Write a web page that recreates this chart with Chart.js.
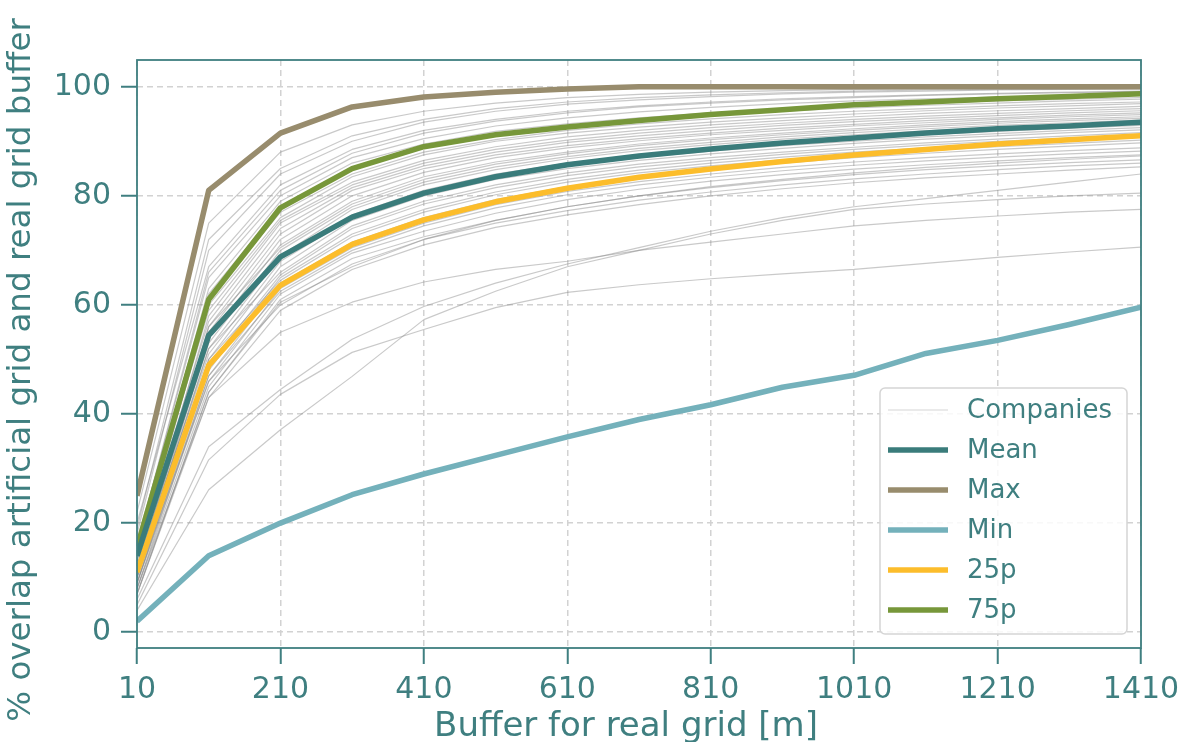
<!DOCTYPE html>
<html>
<head>
<meta charset="utf-8">
<script src="https://cdn.jsdelivr.net/npm/chart.js@4.4.1/dist/chart.umd.min.js"></script>
<style>
  html, body { margin: 0; padding: 0; background: #fff; }
  #wrap { width: 1188px; height: 742px; }
</style>
</head>
<body>
<div id="wrap"><canvas id="overlapChart" width="1188" height="742"></canvas></div>
<script>
// buffer sizes (m) and axis ticks
var buffers = [10, 110, 210, 310, 410, 510, 610, 710, 810, 910, 1010, 1110, 1210, 1310, 1410];
var xTicks = [10, 210, 410, 610, 810, 1010, 1210, 1410];
var yTicks = [0, 20, 40, 60, 80, 100];

// summary curves (% overlap)
var meanVals = [14, 54.4, 68.8, 76.1, 80.5, 83.5, 85.7, 87.3, 88.6, 89.7, 90.6, 91.5, 92.3, 92.8, 93.5];
var maxVals  = [25, 81, 91.5, 96.3, 98.1, 99, 99.6, 100, 100, 100, 100, 100, 100, 100, 100];
var minVals  = [2, 14, 20, 25.2, 29, 32.4, 35.8, 39, 41.7, 44.9, 47.1, 51.1, 53.5, 56.4, 59.6];
var p25Vals  = [11, 48.9, 63.6, 71.1, 75.6, 78.9, 81.4, 83.4, 84.9, 86.3, 87.5, 88.5, 89.5, 90.3, 91];
var p75Vals  = [15.5, 61, 77.8, 85, 89, 91.2, 92.6, 93.8, 94.9, 95.8, 96.7, 97.2, 97.8, 98.2, 98.7];

// one curve per company
var companies = [
  [22, 75, 88, 93, 95.5, 97, 98, 98.6, 99, 99.3, 99.5, 99.6, 99.7, 99.8, 99.9],
  [18, 70, 84, 90, 93.5, 95.5, 96.8, 97.6, 98.2, 98.7, 99, 99.2, 99.4, 99.5, 99.6],
  [20, 67, 82, 88.5, 92, 94, 95.5, 96.5, 97.2, 97.8, 98.2, 98.5, 98.8, 99, 99.2],
  [16, 65, 80, 87, 90.5, 92.8, 94.3, 95.4, 96.2, 96.9, 97.4, 97.8, 98.1, 98.4, 98.6],
  [15, 63, 79, 86, 89.5, 91.8, 93.2, 94.3, 95.2, 95.9, 96.5, 97, 97.4, 97.7, 98],
  [17, 62, 78, 85, 88.8, 91, 92.6, 93.8, 94.7, 95.5, 96.1, 96.6, 97, 97.4, 97.7],
  [14, 61, 77, 84, 88, 90.3, 92, 93.2, 94.1, 94.9, 95.5, 96, 96.5, 96.9, 97.2],
  [13, 60, 76, 83.5, 87.5, 90, 91.5, 92.6, 93.5, 94.3, 95, 95.6, 96.1, 96.5, 96.9],
  [15, 59, 75.5, 82.5, 86.5, 89, 90.8, 92, 93, 93.8, 94.5, 95.1, 95.6, 96, 96.4],
  [12, 58, 75, 82, 86, 88.5, 90.2, 91.5, 92.5, 93.3, 94, 94.6, 95.1, 95.6, 96],
  [14, 57, 74, 81.5, 85.5, 88, 89.8, 91, 92, 92.9, 93.6, 94.2, 94.7, 95.2, 95.6],
  [11, 56, 73, 81, 85, 87.5, 89.2, 90.5, 91.5, 92.4, 93.1, 93.8, 94.3, 94.8, 95.2],
  [13, 55, 72, 80, 84.3, 87, 88.8, 90.1, 91.2, 92, 92.8, 93.4, 94, 94.5, 94.9],
  [12, 54, 71, 79, 83.5, 86.2, 88, 89.5, 90.6, 91.5, 92.3, 93, 93.6, 94.1, 94.5],
  [10, 56, 70.5, 78.5, 83, 85.8, 87.7, 89.2, 90.3, 91.2, 92, 92.7, 93.3, 93.8, 94.2],
  [12, 53, 70, 78, 82.5, 85.3, 87.2, 88.7, 89.8, 90.8, 91.6, 92.3, 92.9, 93.4, 93.9],
  [11, 52, 69, 77.5, 82, 84.8, 86.8, 88.3, 89.4, 90.4, 91.2, 91.9, 92.5, 93, 93.5],
  [10, 54, 68.5, 76.5, 81, 84, 86, 87.5, 88.7, 89.7, 90.5, 91.2, 91.8, 92.4, 92.9],
  [12, 51, 68, 76, 80.5, 83.5, 85.5, 87, 88.2, 89.2, 90, 90.8, 91.4, 92, 92.5],
  [9, 50, 67, 75.5, 80, 83, 85, 86.5, 87.7, 88.7, 89.6, 90.4, 91, 91.6, 92.1],
  [11, 52, 66, 74.5, 79, 82, 84.2, 85.8, 87, 88, 88.9, 89.7, 90.4, 91, 91.6],
  [10, 49, 65.5, 74, 78.5, 81.5, 83.7, 85.3, 86.5, 87.6, 88.5, 89.3, 90, 90.6, 91.2],
  [9, 48, 65, 73, 77.5, 80.7, 83, 84.7, 86, 87.1, 88, 88.8, 89.5, 90.2, 90.8],
  [11, 50, 64.5, 72.5, 77, 80.2, 82.5, 84.2, 85.5, 86.6, 87.5, 88.3, 89, 89.6, 90.2],
  [8, 47, 64, 71.5, 76, 79.3, 81.7, 83.5, 84.9, 86, 87, 87.8, 88.5, 89.1, 89.7],
  [10, 46, 63, 70.5, 75, 78.4, 80.8, 82.6, 84, 85.2, 86.2, 87, 87.7, 88.3, 88.8],
  [9, 47, 62.5, 70, 74.5, 77.8, 80.2, 82, 83.4, 84.6, 85.6, 86.4, 87.1, 87.7, 88.2],
  [8, 45, 62, 69.5, 73.5, 76.8, 79.3, 81.2, 82.7, 83.9, 84.9, 85.7, 86.4, 87, 87.5],
  [7, 44, 61, 68.5, 72.5, 75.5, 78, 80, 81.5, 82.8, 83.9, 84.8, 85.5, 86.1, 86.6],
  [9, 46, 60, 67.5, 72, 75, 77.3, 79.2, 80.7, 82, 83.1, 84, 84.8, 85.5, 86],
  [8, 43, 59, 66.5, 71, 74.2, 76.5, 78.4, 80, 81.3, 82.4, 83.3, 84, 84.7, 85.3],
  [7, 44, 60.5, 67, 72, 75.5, 78, 80, 81.7, 83, 84.2, 85.2, 86, 86.7, 87.3],
  [19, 72, 85, 91, 94, 96, 97.2, 98, 98.5, 98.9, 99.2, 99.4, 99.5, 99.6, 99.7],
  [16, 66, 81, 87.8, 91.5, 93.7, 95.2, 96.3, 97, 97.6, 98, 98.4, 98.7, 98.9, 99.1],
  [7, 43, 55, 60.5, 64.2, 66.5, 68, 70, 71.5, 73, 74.5, 75.5, 76.3, 77, 77.5],
  [5, 31.6, 43.6, 51.3, 55.5, 59.5, 62.3, 63.7, 64.8, 65.7, 66.5, 67.6, 68.7, 69.7, 70.6],
  [6, 34, 44.5, 53.7, 59.7, 64, 67.5, 70.5, 73.5, 76, 78, 79.5, 81, 82.5, 84],
  [4, 26.1, 37.1, 46.9, 57.3, 62.5, 67, 70, 73, 75.5, 77.5, 78.5, 79.3, 80, 80.5]
];

var xTitle = 'Buffer for real grid [m]';
var yTitle = '% overlap artificial grid and real grid buffer';

var teal = '#3f7f80';
var fontFamily = "'DejaVu Sans', sans-serif";

var datasets = companies.map(function(vals) {
  return {
    label: 'Companies',
    data: vals,
    borderColor: 'rgba(135,135,135,0.45)',
    borderWidth: 1.2,
    order: 1
  };
});

var stats = [
  { label: 'Mean', data: meanVals, color: '#3a7c7b' },
  { label: 'Max', data: maxVals, color: '#988c6d' },
  { label: 'Min', data: minVals, color: '#74b1bb' },
  { label: '25p', data: p25Vals, color: '#fcbd2b' },
  { label: '75p', data: p75Vals, color: '#77973a' }
];
stats.forEach(function(s) {
  datasets.push({
    label: s.label,
    data: s.data,
    borderColor: s.color,
    borderWidth: 5.5,
    order: 0
  });
});

// frame around the plot area
var framePlugin = {
  id: 'frame',
  afterDatasetsDraw: function(chart) {
    var a = chart.chartArea, ctx = chart.ctx;
    ctx.save();
    ctx.strokeStyle = teal;
    ctx.lineWidth = 1.8;
    ctx.strokeRect(a.left, a.top, a.right - a.left, a.bottom - a.top);
    ctx.restore();
  }
};

// axis titles, placed by hand
var titlePlugin = {
  id: 'axisTitles',
  afterDraw: function(chart) {
    var ctx = chart.ctx;
    ctx.save();
    ctx.fillStyle = teal;
    ctx.textAlign = 'center';
    ctx.textBaseline = 'alphabetic';
    ctx.font = '34px ' + fontFamily;
    ctx.fillText(xTitle, 626, 736);
    ctx.translate(22, 370);
    ctx.rotate(-Math.PI / 2);
    ctx.textBaseline = 'middle';
    ctx.font = '32.5px ' + fontFamily;
    ctx.fillText(yTitle, 0, 0);
    ctx.restore();
  }
};

// legend box in the lower right corner
var legendPlugin = {
  id: 'boxLegend',
  afterDraw: function(chart) {
    var ctx = chart.ctx;
    var seen = {}, rows = [];
    chart.data.datasets.forEach(function(ds) {
      if (seen[ds.label]) return;
      seen[ds.label] = true;
      rows.push(ds);
    });
    var x = 880, y = 388, w = 247, h = 246, r = 5;
    ctx.save();
    ctx.beginPath();
    ctx.moveTo(x + r, y);
    ctx.arcTo(x + w, y, x + w, y + h, r);
    ctx.arcTo(x + w, y + h, x, y + h, r);
    ctx.arcTo(x, y + h, x, y, r);
    ctx.arcTo(x, y, x + w, y, r);
    ctx.closePath();
    ctx.fillStyle = 'rgba(255,255,255,0.85)';
    ctx.fill();
    ctx.strokeStyle = '#d5d5d5';
    ctx.lineWidth = 1.5;
    ctx.stroke();

    ctx.font = '26px ' + fontFamily;
    ctx.textBaseline = 'middle';
    ctx.textAlign = 'left';
    rows.forEach(function(ds, i) {
      var cy = 410 + i * 40;
      ctx.beginPath();
      ctx.moveTo(888, cy);
      ctx.lineTo(948, cy);
      ctx.strokeStyle = ds.label === 'Companies' ? 'rgba(160,160,160,0.45)' : ds.borderColor;
      ctx.lineWidth = ds.borderWidth;
      ctx.stroke();
      ctx.fillStyle = teal;
      ctx.fillText(ds.label, 967, cy + 1);
    });
    ctx.restore();
  }
};

var ctx = document.getElementById('overlapChart').getContext('2d');
var overlapChart = new Chart(ctx, {
  type: 'line',
  data: { labels: buffers, datasets: datasets },
  options: {
    responsive: false,
    animation: false,
    layout: { padding: { left: 0, right: 47, top: 60, bottom: 0 } },
    elements: {
      point: { radius: 0 },
      line: { tension: 0, borderJoinStyle: 'round', fill: false }
    },
    plugins: {
      legend: { display: false },
      tooltip: { enabled: false }
    },
    scales: {
      x: {
        type: 'linear',
        min: 10,
        max: 1410,
        afterBuildTicks: function(scale) {
          scale.ticks = xTicks.map(function(v) { return { value: v }; });
        },
        afterFit: function(scale) { scale.height = 94; },
        ticks: {
          color: teal,
          font: { family: fontFamily, size: 30 },
          padding: 8,
          maxRotation: 0,
          autoSkip: false,
          callback: function(v) { return String(v); }
        },
        grid: {
          color: '#d2d2d2',
          lineWidth: 1.5,
          tickColor: teal,
          tickLength: 16,
          tickWidth: 2
        },
        border: { display: false, dash: [6, 4] }
      },
      y: {
        min: -2.9,
        max: 104.9,
        afterBuildTicks: function(scale) {
          scale.ticks = yTicks.map(function(v) { return { value: v }; });
        },
        afterFit: function(scale) { scale.width = 137; },
        ticks: {
          color: teal,
          font: { family: fontFamily, size: 30 },
          padding: 10,
          callback: function(v) { return String(v); }
        },
        grid: {
          color: '#d2d2d2',
          lineWidth: 1.5,
          tickColor: teal,
          tickLength: 16,
          tickWidth: 2
        },
        border: { display: false, dash: [6, 4] }
      }
    }
  },
  plugins: [framePlugin, titlePlugin, legendPlugin]
});
</script>
</body>
</html>
